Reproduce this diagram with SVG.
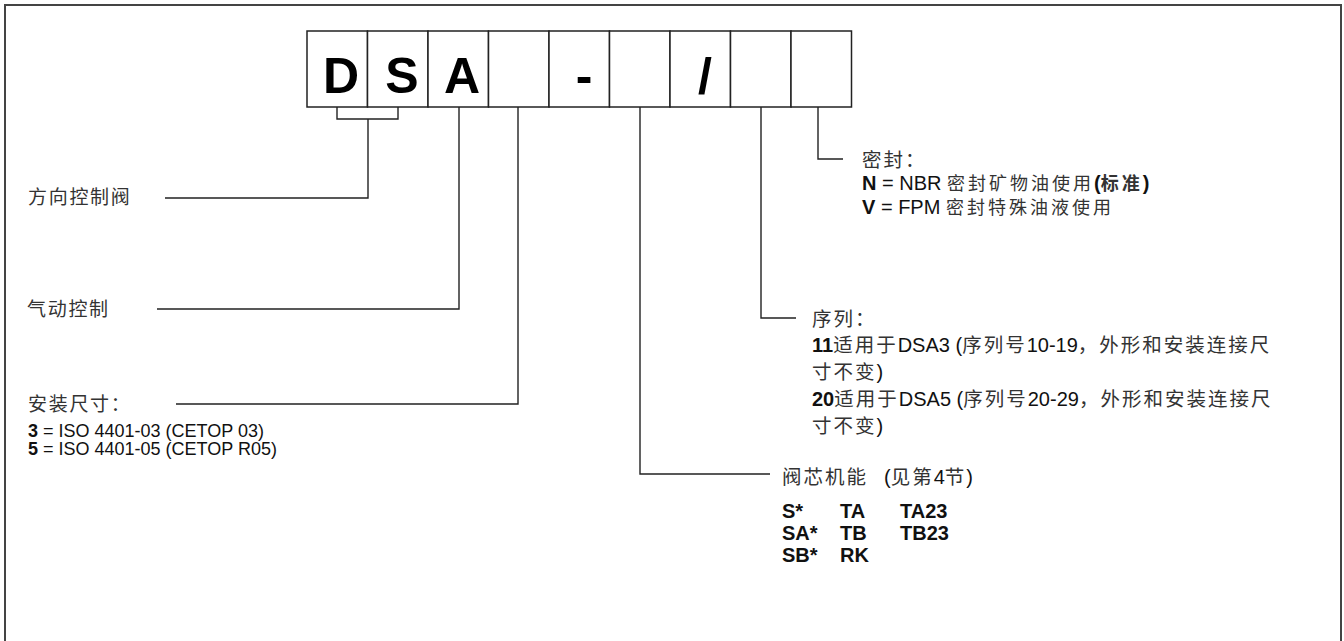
<svg xmlns="http://www.w3.org/2000/svg" width="1344" height="641" viewBox="0 0 1344 641">
<style>
.frame{fill:none;stroke:#444;stroke-width:2}
.box{fill:#fff;stroke:#222;stroke-width:1.5}
.big{font-family:"Liberation Sans","Noto Sans CJK SC",sans-serif;font-weight:bold;font-size:50px;fill:#000;text-anchor:middle}
.t{font-family:"Liberation Sans","Noto Sans CJK SC",sans-serif;font-size:18px;fill:#111}
.r{font-size:20px}
.c{font-family:"Noto Sans CJK SC",sans-serif;font-size:19px;letter-spacing:1.7px;fill:#333}
.c2{font-family:"Noto Sans CJK SC",sans-serif;font-size:19.5px;letter-spacing:2px;fill:#333}
.c3{font-family:"Noto Sans CJK SC",sans-serif;font-size:18px;letter-spacing:3px;fill:#333}
.b{font-weight:bold}
.ln{fill:none;stroke:#222;stroke-width:1.4}
</style>
<rect class="frame" x="5" y="5" width="1336" height="700"/>
<g id="code">
<rect class="box" x="307" y="31" width="60.5" height="76"/>
<rect class="box" x="367.5" y="31" width="60.5" height="76"/>
<rect class="box" x="428" y="31" width="60.5" height="76"/>
<rect class="box" x="488.5" y="31" width="60.5" height="76"/>
<rect class="box" x="549" y="31" width="60.5" height="76"/>
<rect class="box" x="609.5" y="31" width="60.5" height="76"/>
<rect class="box" x="670" y="31" width="60.5" height="76"/>
<rect class="box" x="730.5" y="31" width="60.5" height="76"/>
<rect class="box" x="791" y="31" width="60.5" height="76"/>
<text class="big" x="341" y="93">D</text>
<text class="big" x="402" y="93">S</text>
<text class="big" x="462" y="93">A</text>
<text class="big" x="584" y="93">-</text>
<text class="big" x="705" y="93">/</text>
</g>
<g id="connectors">
<path class="ln" d="M337,107 V119 H398 V107"/>
<path class="ln" d="M368,119 V198 H165"/>
<path class="ln" d="M459,107 V309 H157"/>
<path class="ln" d="M518,107 V404 H176"/>
<path class="ln" d="M640,107 V474 H770"/>
<path class="ln" d="M761,107 V318 H796"/>
<path class="ln" d="M818,107 V159 H843"/>
</g>
<g id="n-direction">
<text class="t" x="28" y="204"><tspan class="c">方向控制阀</tspan></text>
</g>
<g id="n-pneumatic">
<text class="t" x="27" y="316"><tspan class="c">气动控制</tspan></text>
</g>
<g id="n-size">
<text class="t" x="28" y="411"><tspan class="c">安装尺寸：</tspan></text>
<text class="t" x="28" y="437"><tspan class="b">3</tspan> = ISO 4401-03 (CETOP 03)</text>
<text class="t" x="28" y="455"><tspan class="b">5</tspan> = ISO 4401-05 (CETOP R05)</text>
</g>
<g id="n-seal">
<text class="t r" x="862" y="167"><tspan class="c2">密封：</tspan></text>
<text class="t r" x="862" y="190"><tspan class="b">N</tspan> = NBR <tspan class="c3">密封矿物油使用</tspan><tspan class="b">(</tspan><tspan class="c3 b">标准</tspan><tspan class="b">)</tspan></text>
<text class="t r" x="862" y="214"><tspan class="b">V</tspan> = FPM <tspan class="c3">密封特殊油液使用</tspan></text>
</g>
<g id="n-series">
<text class="t r" x="812" y="326"><tspan class="c2">序列：</tspan></text>
<text class="t r" x="812" y="352"><tspan class="b">11</tspan><tspan class="c2">适用于</tspan>DSA3 (<tspan class="c2">序列号</tspan>10-19<tspan class="c2">，外形和安装连接尺</tspan></text>
<text class="t r" x="812" y="379"><tspan class="c2">寸不变</tspan>)</text>
<text class="t r" x="812" y="406"><tspan class="b">20</tspan><tspan class="c2">适用于</tspan>DSA5 (<tspan class="c2">序列号</tspan>20-29<tspan class="c2">，外形和安装连接尺</tspan></text>
<text class="t r" x="812" y="433"><tspan class="c2">寸不变</tspan>)</text>
</g>
<g id="n-spool">
<text class="t r" x="782" y="484"><tspan class="c2">阀芯机能</tspan></text>
<text class="t r" x="884" y="484">(<tspan class="c2">见第</tspan>4<tspan class="c2">节</tspan>)</text>
<text class="t r b" x="782" y="518">S*</text>
<text class="t r b" x="840" y="518">TA</text>
<text class="t r b" x="900" y="518">TA23</text>
<text class="t r b" x="782" y="540">SA*</text>
<text class="t r b" x="840" y="540">TB</text>
<text class="t r b" x="900" y="540">TB23</text>
<text class="t r b" x="782" y="562">SB*</text>
<text class="t r b" x="840" y="562">RK</text>
</g>
</svg>
